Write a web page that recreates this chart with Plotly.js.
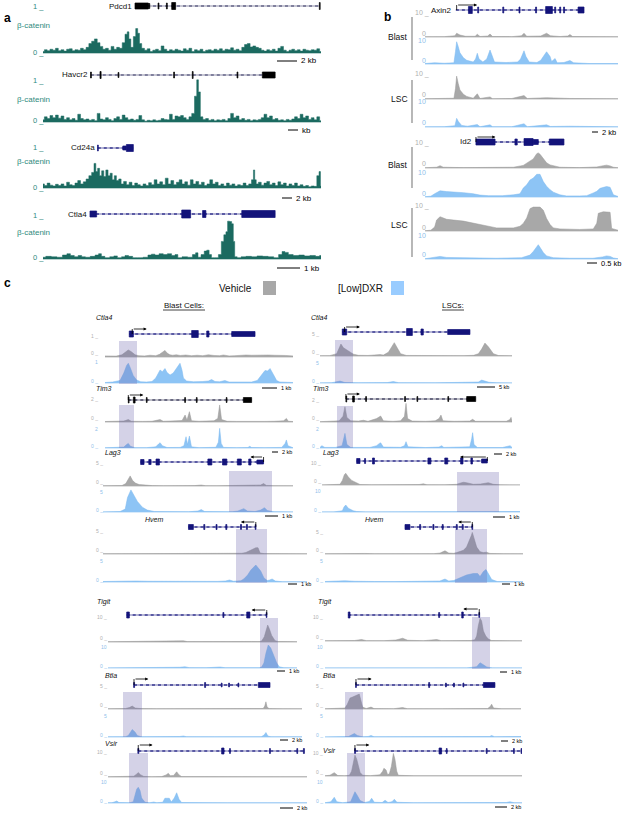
<!DOCTYPE html>
<html><head><meta charset="utf-8">
<script src="https://cdn.plot.ly/plotly-3.0.1.min.js"></script>
<style>html,body{margin:0;padding:0;background:#fff}#chart{width:622px;height:813px}</style>
</head><body><div id="chart"></div>
<script>
// ================= DATA =================
// Panel a: beta-catenin signal (position in window %, signal 0-1)
const a_Pdcd1 = [[0,.03],[1,.07],[2,.05],[3,.08],[4,.06],[5,.1],[6,.05],[7,.07],[8,.04],[9,.08],[10,.09],[11,.05],[12,.07],[13,.06],[14,.1],[15,.07],[16,.12],[17,.2],[18,.25],[19,.3],[20,.22],[21,.14],[22,.08],[23,.1],[24,.06],[25,.14],[26,.08],[27,.12],[28,.1],[29,.22],[30,.4],[30.6,.45],[31.2,.3],[32,.12],[33,.35],[33.7,.52],[34.4,.42],[35,.2],[36,.1],[37,.06],[38,.09],[39,.03],[40,.06],[41,.08],[42,.05],[43,.15],[44,.08],[45,.04],[46,.07],[47,.05],[48,.08],[49,.06],[50,.04],[51,.09],[52,.06],[53,.1],[54,.03],[55,.07],[56,.05],[57,.08],[58,.03],[59,.06],[60,.07],[61,.05],[62,.08],[63,.06],[64,.09],[65,.05],[66,.08],[67,.07],[68,.11],[69,.06],[70,.08],[71,.05],[72,.12],[73,.18],[74,.2],[75,.13],[76,.15],[77,.12],[78,.1],[79,.06],[80,.04],[81,.07],[82,.05],[83,.08],[84,.04],[85,.1],[86,.14],[87,.06],[88,.03],[89,.06],[90,.08],[91,.05],[92,.07],[93,.04],[94,.08],[95,.06],[96,.05],[97,.07],[98,.06],[99,.09],[100,.03]];
const a_Havcr2 = [[0,.05],[1,.12],[2,.08],[3,.15],[4,.1],[5,.16],[6,.09],[7,.14],[8,.06],[9,.1],[10,.05],[11,.08],[12,.04],[13,.18],[14,.08],[15,.05],[16,.07],[17,.04],[18,.06],[19,.03],[20,.2],[21,.07],[22,.05],[23,.1],[24,.06],[25,.03],[26,.08],[27,.12],[28,.06],[29,.16],[30,.1],[31,.05],[32,.07],[33,.04],[34,.06],[35,.15],[36,.05],[37,.02],[38,.04],[39,.03],[40,.05],[41,.03],[42,.04],[43,.08],[44,.06],[45,.05],[46,.18],[47,.06],[48,.14],[49,.12],[50,.15],[51,.1],[52,.06],[53,.12],[54,.2],[55,.6],[55.6,.98],[56.2,.7],[57,.12],[58,.06],[59,.08],[60,.04],[61,.06],[62,.03],[63,.05],[64,.04],[65,.06],[66,.03],[67,.08],[68,.2],[69,.1],[70,.14],[71,.05],[72,.08],[73,.04],[74,.06],[75,.03],[76,.05],[77,.04],[78,.06],[79,.1],[80,.18],[81,.1],[82,.14],[83,.06],[84,.08],[85,.04],[86,.05],[87,.03],[88,.06],[89,.04],[90,.07],[91,.12],[92,.08],[93,.18],[94,.1],[95,.14],[96,.06],[97,.1],[98,.05],[99,.12],[100,.03]];
const a_Cd24a = [[0,.1],[1,.06],[2,.12],[3,.07],[4,.05],[5,.09],[6,.06],[7,.1],[8,.05],[9,.14],[10,.08],[11,.06],[12,.12],[13,.18],[14,.1],[15,.15],[16,.22],[17,.3],[18,.38],[18.7,.6],[19.3,.4],[20,.48],[20.7,.3],[21.5,.42],[22.2,.28],[23,.44],[23.8,.3],[24.5,.36],[25.3,.2],[26,.3],[26.8,.18],[27.7,.22],[28.5,.1],[29.5,.16],[30.5,.08],[31.5,.14],[32.5,.06],[33.5,.12],[34.5,.08],[35.5,.05],[36.5,.1],[37.5,.06],[38.5,.13],[39.5,.08],[40.5,.2],[41.5,.1],[42.5,.15],[43.5,.08],[44.5,.24],[45.5,.1],[46.5,.18],[47.5,.08],[48.5,.14],[49.5,.2],[50.5,.1],[51.5,.15],[52.5,.07],[53.5,.2],[54.5,.1],[55.5,.16],[56.5,.08],[57.5,.14],[58.5,.06],[59.5,.1],[60.5,.2],[61.5,.1],[62.5,.14],[63.5,.06],[64.5,.1],[65.5,.05],[66.5,.12],[67.5,.07],[68.5,.1],[69.5,.05],[70.5,.08],[71.5,.06],[72.5,.12],[73.5,.06],[74.5,.1],[75.5,.2],[75.9,.44],[76.4,.2],[77,.1],[78,.14],[79,.07],[80,.12],[81,.16],[82,.08],[83,.12],[84,.06],[85,.15],[86,.08],[87,.12],[88,.05],[89,.1],[90,.06],[91,.12],[92,.05],[93,.08],[94,.04],[95,.06],[96,.03],[97,.05],[98,.04],[99,.3],[99.6,.4],[100,.05]];
const a_Ctla4 = [[0,.04],[2,.06],[4,.05],[6,.04],[8,.09],[9.2,.12],[10.5,.08],[12,.05],[13.3,.08],[14.5,.05],[16,.04],[18,.06],[19.5,.09],[20.5,.12],[21.5,.06],[23,.03],[25,.05],[26,.07],[27.5,.03],[29,.05],[30,.08],[31.5,.06],[33,.03],[35,.03],[37,.04],[38.5,.09],[39.5,.11],[41,.09],[42.5,.12],[44,.1],[45.5,.12],[47,.08],[48,.1],[49,.03],[51,.05],[53,.04],[54.5,.1],[55.3,.14],[56.2,.04],[57.5,.1],[58.5,.18],[59.3,.2],[60.2,.1],[61,.03],[62.5,.03],[63.7,.1],[64.6,.4],[65.5,.55],[66.1,.62],[66.7,.86],[67.5,.85],[68.2,.8],[68.7,.4],[69.2,.05],[70.5,.03],[72,.05],[74,.06],[76,.05],[78,.07],[80,.06],[82,.05],[84,.03],[85.5,.1],[86.5,.17],[87.5,.15],[89,.1],[91,.08],[93,.09],[95,.07],[97,.08],[99,.06],[100,.08]];
// Panel a gene models: [txStart, txEnd, exons[start, end, halfHeightPx]]
const aGene_Pdcd1 = [33.1, 99.6, [[33.1,37.9,3],[38,38.4,2.5],[41.4,41.7,3],[44.4,44.7,3],[46.3,47.7,3.5],[99.4,99.7,3.5]]];
const aGene_Havcr2 = [17.2, 83.5, [[17.1,17.4,3],[20.5,20.9,3.5],[27,27.3,2.5],[47,47.3,3],[53.7,54,3.5],[69.8,70.1,3],[78.9,83.5,3]]];
const aGene_Cd24a = [19.7, 32.5, [[19.6,19.9,3],[28.7,30,2],[30,32.5,3.5]]];
const aGene_Ctla4 = [16.9, 83.5, [[16.9,19.3,3],[49.9,53.1,4],[57.4,58.6,3.5],[71.5,83.5,3.5]]];
const aNames = ['Pdcd1','Havcr2','Cd24a','Ctla4'];
const aScaleLabels = ['2 kb','kb','2 kb','1 kb'];

// Panel b: Axin2 / Id2 (signal 0-10)
const b_Axin2_BlastVeh = [[0,.1],[10,.15],[15.5,.5],[16.4,1.5],[18.1,.8],[21,.3],[26,.3],[27.1,1.1],[28.5,.2],[32.5,.4],[33.7,1.2],[35,.2],[45,.15],[50,.5],[51.3,1.5],[52.7,.3],[60,.4],[63,1.5],[65,.5],[70,.2],[74,.4],[75.1,1.0],[76.5,.2],[85,.1],[100,.1]];
const b_Axin2_BlastDxr = [[0,.2],[5,.5],[10,.3],[15,.5],[15.8,5],[16.4,8.9],[17.2,7],[18.1,4.5],[19.9,2.5],[21.6,1.5],[25,.8],[26.2,2],[27.1,4.3],[28,2],[30,.8],[32,2],[33.7,5.6],[34.8,3],[36,.8],[42,.6],[48,.8],[49.5,2],[51.3,5.3],[52.3,3],[54,.8],[58,.6],[60,1.5],[61.3,3],[63,4.9],[64.8,3],[65.6,1],[67.4,2.2],[68.5,.5],[72,.6],[74,1.2],[75.1,1.4],[77,.5],[85,.2],[100,.2]];
const b_Axin2_LscVeh = [[0,.1],[10,.1],[15,.3],[15.8,4],[16.4,8.8],[17.2,6],[18.1,3.5],[19.9,1.8],[21.6,1],[25,.3],[27.1,2],[28.5,.2],[33.7,.8],[35,.1],[45,.2],[51.3,1.3],[53,.2],[63,.5],[75,.2],[100,.1]];
const b_Axin2_LscDxr = [[0,.05],[10,.1],[15.5,.5],[16.4,3.2],[17.3,2],[19,.6],[22,.3],[27.1,.9],[28.5,.1],[33.7,.8],[35,.1],[45,.1],[51.3,1.2],[53,.1],[63,.8],[65,.2],[75,.3],[100,.05]];
const b_Id2_BlastVeh = [[0,.1],[6,.3],[7.8,.9],[9.5,.3],[20,.15],[37,.15],[45.8,.3],[50.9,1],[54.4,2.5],[56.1,3.5],[57.9,5.5],[58.7,5.8],[59.6,5.3],[61.3,3.5],[63,2],[64.8,1.2],[66.5,.8],[69.9,.3],[80,.15],[89,.4],[92.4,.9],[94.1,1.1],[95.9,.8],[97.6,.3],[100,.1]];
const b_Id2_BlastDxr = [[0,.1],[3,.3],[5,1.2],[7.8,2.3],[11.2,2],[16,1.9],[20,1.6],[25,1.2],[28.5,.7],[33,.5],[40,.5],[45.8,.8],[49.2,1.2],[50.9,3.3],[52.7,4.5],[54.4,6.3],[56.1,7],[57.9,8.4],[59.6,8.4],[61.3,5.7],[63,4],[64.8,2.7],[66.5,1.8],[69.9,.8],[73.4,.4],[80,.4],[83.8,.5],[87.2,1.5],[89,2.1],[90.7,3.2],[92.4,3.6],[94.1,3.9],[95.9,3.6],[97.6,.8],[100,.2]];
const b_Id2_LscVeh = [[0,.1],[3,.3],[5,1.5],[6,4.2],[7.8,5.5],[9.5,5],[11.2,4.5],[19.9,3.8],[28.5,2.5],[37.1,1.2],[45.8,1.2],[49.2,1.8],[50.9,2.9],[52.7,5],[54.4,8.6],[56.1,9.2],[59.6,9.2],[61.3,8],[63,4.8],[64.8,2.5],[66.5,1.2],[69.9,.8],[80,.6],[87.2,.8],[89,3],[89.8,6.8],[92.4,7.4],[95.9,7.2],[96.7,1],[100,.3]];
const b_Id2_LscDxr = [[0,.1],[5,.5],[7.8,1],[11.2,.6],[20,.5],[37,.3],[50,.5],[54.4,1.5],[56.1,2.9],[57.9,4.5],[58.7,5.5],[60,4],[61.3,2.5],[63,1.2],[66.5,.5],[75,.3],[87,.3],[92,.8],[94.1,1.2],[96,1],[97.6,.4],[100,.1]];
const bGene_Axin2 = [16, 82.4, [[22.5,24.5,3.5],[27.3,27.8,3],[40.3,40.8,3],[48.7,49.2,3],[57.3,57.8,3],[62.5,66,3.5],[67.2,67.7,3],[69.8,70.3,3],[71.8,72.3,3],[79.3,82.4,3]]];
const bGene_Id2 = [26.4, 72, [[26.4,36.3,3],[46.6,47.8,3],[51.3,56,3.5],[56,58.7,2.5],[64.4,72,3]]];
const bNames = ['Axin2','Id2'];
const bScaleLabels = ['2 kb','0.5 kb'];
const bMax = 10;

// Panel c: gene names, data range max, scale bar labels
const cGenes = ['Ctla4','Tim3','Lag3','Hvem','Tigit','Btla','Vsir'];
const cMaxBlast = [1,2,5,5,10,5,10];
const cMaxLSC = [5,2,10,5,10,5,10];
const cScaleBlast = ['1 kb','2 kb','1 kb','1 kb','1 kb','2 kb','2 kb'];
const cScaleLSC = ['5 kb','2 kb','1 kb','1 kb','1 kb','2 kb','2 kb'];
// Blast cells: Vehicle / [Low]DXR
const cB_Ctla4_veh = [[0,.05],[3,.06],[6,.04],[9,.1],[11,.22],[12.4,.32],[14,.24],[16,.1],[18,.06],[21,.05],[24,.08],[27,.06],[29,.12],[30.5,.22],[31.9,.3],[33,.18],[34.5,.1],[36,.08],[38,.1],[40,.07],[43,.09],[46,.06],[49,.08],[52,.06],[55,.1],[58,.07],[61,.06],[63,.09],[66,.05],[69,.06],[72,.08],[75,.09],[78,.08],[81,.09],[84,.07],[87,.09],[90,.08],[93,.06],[96,.07],[100,.05]];
const cB_Ctla4_dxr = [[0,.02],[4,.04],[8,.1],[10,.4],[11.5,.7],[12.4,.79],[13.5,.6],[15,.3],[16.8,.12],[19,.05],[22,.04],[25,.06],[27,.2],[28.5,.45],[29.3,.52],[30.5,.45],[31.9,.58],[33,.42],[34.6,.32],[36.3,.4],[38.2,.6],[39.9,.79],[41,.5],[41.7,.2],[43.4,.08],[47,.05],[52,.06],[55,.08],[56.7,.14],[58.5,.06],[61,.05],[63.8,.1],[66,.04],[72,.03],[78,.04],[81,.1],[83,.3],[85.1,.5],[86.5,.48],[87.8,.58],[89.5,.35],[91.3,.1],[93,.04],[100,.02]];
const cB_Tim3_veh = [[0,.04],[5,.05],[10,.08],[12.4,.2],[14,.06],[20,.05],[25,.06],[29.3,.2],[31,.06],[35,.08],[38,.1],[41,.12],[42.6,.58],[43.6,.15],[44.9,.86],[46,.1],[50,.06],[55,.08],[58,.1],[60,.3],[61,1.42],[62,.2],[65,.06],[70,.05],[75,.07],[80,.06],[85,.05],[90,.06],[95,.1],[96.5,.3],[97.5,.06],[100,.04]];
const cB_Tim3_dxr = [[0,.02],[5,.03],[10,.08],[11.5,.3],[12.4,.4],[13.5,.15],[16,.03],[22,.03],[27,.1],[28.5,.35],[29.3,.46],[30.5,.2],[33,.04],[40,.05],[42,.2],[43.1,.98],[43.9,.3],[44.9,1.04],[46,.1],[50,.03],[56,.03],[59,.06],[60.3,.5],[61,1.71],[61.8,.4],[63,.05],[70,.03],[76,.04],[77,.15],[78,.04],[85,.03],[94,.05],[95.8,.4],[96.5,.7],[97.3,.2],[100,.02]];
const cB_Lag3_veh = [[0,.05],[5,.06],[10,.1],[12,.5],[13.5,1.4],[14.3,2.1],[15.5,1.2],[17,.6],[19,.3],[22,.15],[26,.08],[32,.06],[40,.05],[48,.08],[51.7,.2],[54,.06],[60,.05],[66,.06],[72,.07],[76,.1],[80,.08],[83,.2],[84.5,.5],[86,.12],[90,.06],[95,.05],[100,.04]];
const cB_Lag3_dxr = [[0,.02],[5,.03],[9,.1],[11.7,.6],[12.9,3.0],[14.7,4.6],[16.4,3.5],[18.1,2.2],[20.7,1.0],[23.3,.4],[27,.1],[35,.04],[45,.05],[50,.2],[51.7,.5],[53.5,.1],[60,.04],[68,.05],[71,.2],[74.1,.7],[76,.2],[80,.1],[83,.4],[85,.9],[86.5,.3],[90,.05],[100,.02]];
const cB_Hvem_veh = [[0,.05],[5,.06],[10,.05],[20,.06],[30,.05],[40,.06],[50,.05],[56,.07],[60,.1],[62,.2],[64,.08],[68,.15],[70,.3],[71.7,.7],[73.3,1.0],[74.9,1.3],[76,1.3],[77,.2],[79,.08],[85,.06],[90,.05],[100,.04]];
const cB_Hvem_dxr = [[0,.1],[4,.15],[8,.2],[12,.15],[16,.2],[22,.15],[30,.12],[40,.1],[50,.1],[56,.12],[60,.2],[62,.4],[64,.15],[66,.2],[67.6,.25],[69,.6],[70.9,1.4],[72.5,2.4],[73.8,3.0],[74.9,3.4],[75.7,3.0],[77.3,2.2],[78.9,.8],[80.5,.3],[81.7,.4],[82.9,.6],[84.5,.2],[88,.05],[100,.03]];
const cB_Tigit_veh = [[0,.1],[8,.15],[15,.2],[18.7,.35],[21,.1],[30,.15],[37,.2],[39.9,.45],[42,.15],[50,.2],[57,.2],[59.3,.35],[62,.15],[68,.25],[73.4,.45],[76,.2],[80,.15],[81.3,.4],[82.7,2],[83.6,4.5],[84.5,6.5],[85.4,5],[86.6,2.5],[88.4,.5],[90,.2],[95,.15],[100,.1]];
const cB_Tigit_dxr = [[0,.05],[8,.08],[15,.1],[18.7,.25],[21,.08],[32,.1],[38,.3],[40.7,.5],[43,.15],[52,.1],[57,.2],[59.3,.4],[62,.1],[70,.1],[73.4,.3],[76,.08],[80,.1],[81.3,.4],[82.5,2],[83.6,6],[84.8,9.2],[86.1,8],[87.5,5],[89.3,2],[90.6,.5],[93,.1],[100,.05]];
const cB_Btla_veh = [[0,.05],[5,.06],[9,.1],[11,.3],[12.5,.6],[14,.2],[17,.08],[25,.06],[35,.07],[45,.05],[55,.06],[65,.05],[75,.06],[80,.1],[80.8,.6],[81.4,1.5],[82,.4],[83,.08],[90,.05],[100,.04]];
const cB_Btla_dxr = [[0,.03],[5,.04],[9,.06],[10.5,.3],[11.3,.8],[12.5,1.5],[13.9,1.0],[15.1,.3],[17,.06],[30,.05],[37,.1],[38.8,.2],[40.5,.06],[55,.04],[70,.04],[79,.05],[80.5,.4],[81.4,.9],[82.4,.2],[84,.04],[100,.03]];
const cB_Vsir_veh = [[0,.1],[5,.15],[10,.1],[13,.3],[14.5,1.2],[15.2,1.7],[16.3,.9],[18,.2],[22,.1],[27,.15],[29.2,.8],[30.3,1.4],[31.3,.5],[33,.6],[34.5,2.0],[35.7,.8],[37,.15],[45,.1],[60,.1],[75,.12],[90,.1],[100,.1]];
const cB_Vsir_dxr = [[0,.05],[2,.1],[3.5,.5],[4.4,.8],[5.5,.2],[8,.05],[11,.1],[12.7,.5],[13.6,3],[14.4,5.5],[15.2,6.3],[16.1,5],[16.9,2],[18.6,.3],[21,.1],[23,.4],[24.5,.1],[27.5,.3],[28.6,1.9],[30.8,1.9],[31.8,.4],[33.3,2],[34.5,4.1],[35.7,1.5],[37,.2],[45,.05],[60,.05],[80,.05],[92,.1],[94.8,.3],[96.5,.08],[100,.05]];
// LSCs: Vehicle / [Low]DXR
const cL_Ctla4_veh = [[0,.05],[5,.08],[8.7,.5],[10.1,2],[10.9,2.6],[12.2,1.8],[14.8,1],[17.4,.4],[20,.15],[25,.12],[31.3,.3],[33,.2],[35.6,.8],[37.3,1.8],[38.7,2.9],[39.9,2],[42,.5],[45,.12],[55,.08],[65,.06],[75,.08],[80,.15],[82.5,.5],[84.2,1.5],[85.9,2.8],[87.7,2],[90.3,.5],[93,.1],[100,.06]];
const cL_Ctla4_dxr = [[0,.02],[6,.05],[10.4,.4],[13,.1],[20,.05],[35,.08],[38.2,.3],[41,.06],[60,.04],[78,.06],[82.5,.2],[84.2,.6],[86,.4],[88,.15],[92,.04],[100,.02]];
const cL_Tim3_veh = [[0,.03],[5,.05],[10,.1],[12,.5],[13,1.33],[14,.4],[16,.1],[20,.08],[22.6,.15],[25,.06],[29.5,.3],[31.6,.52],[33,.1],[38,.06],[42,.1],[44,.5],[44.8,1.62],[45.6,.3],[48,.08],[55,.06],[60,.1],[62,.3],[63,.6],[64,.1],[70,.06],[78,.08],[79.5,.23],[81,.06],[90,.05],[97,.06],[98.8,.2],[99.5,.4],[100,.05]];
const cL_Tim3_dxr = [[0,.05],[0.9,.2],[2.5,.05],[8,.05],[11.5,.2],[12.3,.9],[13,1.27],[14,.3],[16,.05],[26,.05],[29.5,.2],[30.9,.4],[31.6,.45],[33,.08],[42,.06],[44,.2],[44.8,.55],[45.8,.1],[55,.04],[62,.08],[63.4,.2],[64.5,.05],[78,.1],[79,.8],[79.5,1.33],[80.2,.3],[82,.04],[95,.04],[99,.2],[100,.05]];
const cL_Lag3_veh = [[0,.05],[5,.08],[9.1,.3],[10.3,2],[11.3,4.5],[12,5.1],[13.3,3.5],[15,2],[17.5,.8],[19.2,.2],[25,.08],[35,.06],[45,.08],[49,.2],[51.2,.5],[53,.1],[62,.06],[68,.3],[69.7,.8],[71.4,1.2],[73,1],[76.4,.3],[80,.4],[82,.8],[84,1.0],[86.5,.3],[90,.06],[100,.04]];
const cL_Lag3_dxr = [[0,.03],[6,.05],[10.3,.5],[11.1,2],[12,2.8],[13.3,1.5],[15.8,.5],[17.5,.2],[22,.05],[40,.04],[60,.04],[75,.05],[90,.04],[98,.1],[100,.2]];
const cL_Hvem_veh = [[0,.05],[5,.1],[10,.15],[15,.08],[20,.12],[25,.06],[35,.05],[45,.06],[55,.08],[58.1,.2],[60.6,.7],[62.5,.2],[65,.15],[66.5,.3],[69.9,.8],[71.5,1.5],[72.9,2.8],[73.9,4],[74.4,4.7],[75.3,3.5],[76.6,1.5],[78.3,.5],[80,.3],[81.6,.4],[83.3,.12],[90,.06],[100,.04]];
const cL_Hvem_dxr = [[0,.1],[5,.2],[10,.25],[15,.15],[20,.2],[25,.1],[35,.08],[45,.08],[55,.1],[58,.2],[60.6,.6],[62.5,.2],[65,.3],[68.2,.9],[71.5,1.4],[74.9,1.7],[77.1,1.7],[78.3,1.1],[80,2.1],[81.3,2.5],[82.5,1.7],[84.2,.5],[87,.1],[95,.05],[100,.03]];
const cL_Tigit_veh = [[0,.1],[8,.15],[15,.2],[18.6,.6],[21,.15],[30,.12],[36,.4],[39.4,1.1],[42,.3],[50,.12],[54,.3],[56.7,.6],[59,.15],[70,.1],[74,.2],[76.1,.5],[77,2],[77.8,6],[78.7,9.1],[79.5,8],[80.4,4],[81.6,2],[82.9,.8],[84.6,.2],[90,.1],[100,.08]];
const cL_Tigit_dxr = [[0,.03],[10,.05],[20,.06],[35,.1],[38.1,.2],[41,.05],[60,.04],[72,.05],[77,.5],[77.8,1.2],[78.7,2.1],[80,1.5],[82.1,.4],[85,.05],[100,.03]];
const cL_Btla_veh = [[0,.05],[5,.06],[9,.1],[10.2,.2],[11.4,1],[12.8,2.3],[14.1,2.5],[15.3,2.7],[16.2,2.8],[17.5,3.1],[18.2,2],[19.2,.4],[21,.1],[23.5,.4],[25,.08],[35,.06],[39.6,.3],[42,.06],[60,.05],[75,.05],[83,.1],[84.3,.5],[85,1.0],[86,.2],[90,.05],[100,.05]];
const cL_Btla_dxr = [[0,.02],[8,.03],[12,.1],[13.5,.4],[15,.7],[16.5,.3],[19,.05],[22,.1],[23.5,.3],[25,.05],[40,.05],[60,.04],[80,.04],[84,.1],[85,.3],[86.5,.05],[100,.1]];
const cL_Vsir_veh = [[0,.1],[2.5,.3],[4.7,1.4],[6.5,.2],[10,.1],[12.4,.3],[13.5,2],[14.4,5.5],[15.2,8.7],[16.1,7],[16.9,4],[17.8,1.5],[19.1,.3],[23,.15],[27.9,.5],[29.3,2],[29.9,3.2],[31,2.5],[31.8,.5],[32.7,1],[33.7,4],[34.7,9.4],[35.5,7],[36.4,2],[37.2,.3],[45,.1],[60,.1],[80,.15],[90,.2],[95,.15],[100,.1]];
const cL_Vsir_dxr = [[0,.1],[3,.5],[4.7,2.3],[6,.5],[9,.1],[13,.5],[14.1,2.5],[15.2,4.5],[16.4,3],[17.8,1],[20,.2],[22.5,.6],[23.7,1.9],[25,.3],[29,.2],[30.5,1.1],[32,.2],[34,.5],[35.2,1.5],[36.5,.3],[45,.1],[60,.08],[80,.1],[92,.2],[93.9,.5],[96,.1],[100,.05]];
// Panel c gene models (window %): [txStart, txEnd, exons]
const cGeneB_Ctla4 = [12.9,79.8,[[12.9,15.1,3],[46.1,49.6,3.5],[54.1,55.3,3],[67.4,79.8,2.5]]];
const cGeneB_Tim3 = [12.4,78,[[12.4,12.8,3],[15.1,16,3],[22,22.4,2.5],[42.4,42.8,2.5],[48.6,49,2.5],[64.5,64.9,2.5],[73.6,78,2.5]]];
const cGeneB_Lag3 = [19.8,84.5,[[19.8,21.6,2.5],[24.1,25.3,2.5],[27.9,29.7,3],[55.2,57.3,3],[62.9,65.2,3],[70.7,72.8,3],[76.7,77.9,3],[81,84.5,2]]];
const cGeneB_Hvem = [41.9,74.9,[[41.9,44.3,2.5],[49.4,49.9,2.5],[55.4,55.9,2.5],[60.2,60.7,2.5],[67.4,67.9,2.5],[70.3,70.8,2.5],[74.6,75,2.5]]];
const cGeneB_Tigit = [9.9,84,[[9.9,11.3,3],[60.8,61.3,2.5],[73.4,75.1,3],[83.7,84.1,2.5]]];
const cGeneB_Btla = [13.4,83.5,[[13.2,13.7,2.5],[49.8,50.3,2.5],[58.4,58.8,2],[62.2,62.6,2],[67,67.4,2],[77.5,83.5,2.5]]];
const cGeneB_Vsir = [15.2,98.5,[[15,15.5,2.5],[57.1,58.3,3],[61.1,61.5,2.5],[81.2,81.6,2.5],[94.9,95.3,2.5],[98.2,98.7,2.5]]];
const cGeneL_Ctla4 = [11.6,78.1,[[11.6,13.9,3],[45.1,48.1,3.5],[52.6,53.8,3],[66.5,78.1,2.5]]];
const cGeneL_Tim3 = [13.5,81.1,[[13.5,13.9,3],[17,17.9,3],[23.8,24.2,2.5],[44.1,44.5,2.5],[50.5,50.9,2.5],[66.6,67,2.5],[76.4,81.1,2.5]]];
const cGeneL_Lag3 = [17.5,83.5,[[17.5,19.2,2.5],[21.5,22,2.5],[25.5,26.5,3],[53.5,55,3],[62,63.5,3],[70,71.2,3],[75.2,76,3],[80.6,83.5,2]]];
const cGeneL_Hvem = [40.4,74.4,[[40.4,42.9,2.5],[47.8,48.3,2.5],[54.5,55,2.5],[59.2,59.7,2.5],[66.3,66.8,2.5],[69.3,69.8,2.5],[74.2,74.6,2.5]]];
const cGeneL_Tigit = [11.8,78.3,[[11.8,12.7,3],[57.7,58.2,2.5],[69.4,70.2,3],[78.1,78.5,2.5]]];
const cGeneL_Btla = [15.8,86.7,[[15.6,16,2.5],[52.9,53.4,2.5],[61.5,61.9,2],[65.6,66,2],[70.4,70.8,2],[80.8,86.7,2.5]]];
const cGeneL_Vsir = [15.2,99.8,[[15,15.5,2.5],[57.9,59.2,3],[61.6,62,2.5],[81.9,82.3,2.5],[95.7,96.1,2.5],[99.5,99.9,2.5]]];
// TSS arrows: [tss, arrow tip] in window %
const cTssB = [[14.5,22.2],[12.4,20.4],[84.5,77.6],[74.9,67.6],[84,76],[13.4,20.8],[15.2,22.4]];
const cTssL = [[12.8,20.8],[13.5,20.8],[83.5,69.7],[74.4,67.3],[78.3,70.2],[15.8,23.8],[15.2,22.5]];

// ================= LAYOUT / STYLE =================
const W = 622, H = 813;
const FONT = 'Liberation Sans, Arial, sans-serif';
const TEAL = '#1b6a60', TEAL_T = '#2f8a7e';
const GRAY_F = '#a8a8a8', GRAY_L = '#989898', GRAY_T = '#b0b0b0';
const BLUE_F = '#8dc4f5', BLUE_L = '#7db8ef', BLUE_T = '#8fc0ea';
const NAVY = '#13137a', NAVY_I = 'rgba(30,30,130,0.8)';
const HL = 'rgba(100,95,170,0.28)';
const X = p => p / W, Y = p => 1 - p / H;
const data = [], shapes = [], annotations = [];
const layout = {width: W, height: H, margin: {l:0, r:0, t:0, b:0}, paper_bgcolor: '#fff',
  plot_bgcolor: 'rgba(0,0,0,0)', showlegend: false, shapes, annotations, font: {family: FONT}};
let nAx = 0;
function addTrack(win, top, base, ymax, pts, fill, line, lshape) {
  nAx++;
  const s = nAx === 1 ? '' : String(nAx);
  layout['xaxis' + s] = {domain: [X(win[0]), X(win[1])], range: [0, 100], visible: false, fixedrange: true, anchor: 'y' + s};
  layout['yaxis' + s] = {domain: [Y(base), Y(top)], range: [0, ymax], visible: false, fixedrange: true, anchor: 'x' + s};
  data.push({type: 'scatter', mode: 'lines', x: pts.map(p => p[0]), y: pts.map(p => p[1]),
    xaxis: 'x' + s, yaxis: 'y' + s, fill: 'tozeroy', fillcolor: fill,
    line: {color: line, width: 0.5, shape: lshape || 'linear'}, hoverinfo: 'skip', showlegend: false});
  shapes.push({type: 'line', layer: 'below', xref: 'x' + s, yref: 'paper', x0: 0, x1: 100, y0: Y(base), y1: Y(base), line: {color: line, width: 0.6}});
  return 'x' + s;
}
function drawGene(xr, yPx, g, color, intron) {
  const [s, e, exons] = g;
  shapes.push({type: 'line', xref: xr, yref: 'paper', x0: s, x1: e, y0: Y(yPx), y1: Y(yPx), line: {color: intron, width: 0.8}});
  shapes.push({type: 'line', xref: xr, yref: 'paper', x0: s, x1: e, y0: Y(yPx), y1: Y(yPx), line: {color: intron, width: 1.6, dash: 'dot'}});
  exons.forEach(ex => shapes.push({type: 'rect', xref: xr, yref: 'paper', x0: ex[0], x1: ex[1],
    y0: Y(yPx + ex[2]), y1: Y(yPx - ex[2]), fillcolor: color, line: {color: color, width: 0.7}}));
}
function tss(xr, yGene, yArrow, x0, x1) {
  shapes.push({type: 'line', xref: xr, yref: 'paper', x0: x0, x1: x0, y0: Y(yGene), y1: Y(yArrow), line: {color: '#000', width: 0.8}});
  annotations.push({xref: xr, yref: 'paper', x: x1, y: Y(yArrow), axref: xr, ax: x0, ayref: 'pixel', ay: 0,
    text: '', showarrow: true, arrowhead: 2, arrowsize: 0.8, arrowwidth: 0.8, arrowcolor: '#000', standoff: 0});
}
function txt(x, y, s, size, color, anchor, extra) {
  annotations.push(Object.assign({xref: 'paper', yref: 'paper', x: X(x), y: Y(y), text: s, showarrow: false,
    xanchor: anchor || 'left', yanchor: 'middle', borderpad: 0, font: {family: FONT, size: size, color: color}}, extra || {}));
}
function hline(x0, x1, y, color, w) {
  shapes.push({type: 'line', xref: 'paper', yref: 'paper', x0: X(x0), x1: X(x1), y0: Y(y), y1: Y(y), line: {color: color, width: w}});
}
function vline(x, y0, y1, color, w) {
  shapes.push({type: 'line', xref: 'paper', yref: 'paper', x0: X(x), x1: X(x), y0: Y(y0), y1: Y(y1), line: {color: color, width: w}});
}
function scaleBar(x0, x1, y, label, size) {
  hline(x0, x1, y, '#000', 1);
  txt(x1 + 3, y, label, size, '#000', 'left');
}
function highlight(xr, u0, u1, y0, y1) {
  shapes.push({type: 'rect', layer: 'above', xref: xr, yref: 'paper', x0: u0, x1: u1, y0: Y(y1), y1: Y(y0), fillcolor: HL, line: {width: 0}});
}

// ---------- Panel a ----------
txt(3, 18, '<b>a</b>', 12, '#000');
const aSignals = [a_Pdcd1, a_Havcr2, a_Cd24a, a_Ctla4];
const aGenes = [aGene_Pdcd1, aGene_Havcr2, aGene_Cd24a, aGene_Ctla4];
const aGeom = [
  {top: 6, base: 53, geneY: 6, lab: 25, sb: [277, 297, 61]},
  {top: 79, base: 122, geneY: 75, lab: 99, sb: [288, 298, 130]},
  {top: 147, base: 188, geneY: 148, lab: 162, sb: [282, 292, 198]},
  {top: 215, base: 259, geneY: 214, lab: 232, sb: [277, 300, 268]}
];
const aWin = [43, 321];
aGeom.forEach((g, i) => {
  const xr = addTrack(aWin, g.top, g.base, 1, aSignals[i], TEAL, TEAL, 'hvh');
  const col = i < 2 ? '#000' : NAVY;
  const intr = i < 2 ? 'rgba(80,80,120,0.8)' : NAVY_I;
  drawGene(xr, g.geneY, aGenes[i], col, intr);
  const gx = aWin[0] + aGenes[i][0] / 100 * (aWin[1] - aWin[0]);
  txt(gx - 2, g.geneY, aNames[i], 8, '#111', 'right');
  txt(32, g.top + 1, '1 _', 7.5, TEAL_T);
  txt(32, g.base - 1, '0 _', 7.5, TEAL_T);
  txt(16, g.lab, 'β-catenin', 8, TEAL_T);
  scaleBar(g.sb[0], g.sb[1], g.sb[2], aScaleLabels[i], 8);
});

// ---------- Panel b ----------
txt(383, 17, '<b>b</b>', 12, '#000');
const bWin = [425, 618];
const bSignals = [[b_Axin2_BlastVeh, b_Axin2_BlastDxr, b_Axin2_LscVeh, b_Axin2_LscDxr],
                  [b_Id2_BlastVeh, b_Id2_BlastDxr, b_Id2_LscVeh, b_Id2_LscDxr]];
const bGenes = [bGene_Axin2, bGene_Id2];
const bGeom = [
  {geneY: 10, arrowY: 5, tss: [16.4, 27], tracks: [[12, 37], [39, 64], [73, 99], [100, 127]], bars: [[17, 60, 37], [80, 123, 99]], sb: [592, 598, 132]},
  {geneY: 142, arrowY: 137, tss: [26.4, 36.5], tracks: [[142, 168], [170, 197], [205, 231], [233, 259]], bars: [[147, 188, 165], [208, 257, 225]], sb: [587, 597, 263]}
];
bGeom.forEach((g, i) => {
  let firstAx = null;
  g.tracks.forEach((t, j) => {
    const isVeh = j % 2 === 0;
    const xr = addTrack(bWin, t[0], t[1], bMax, bSignals[i][j], isVeh ? GRAY_F : BLUE_F, isVeh ? GRAY_L : BLUE_L);
    if (!firstAx) firstAx = xr;
    const c = isVeh ? GRAY_T : BLUE_T;
    txt(isVeh ? 430 : 427, t[0] + (isVeh ? 1 : 2), isVeh ? '10 _' : '10', 7, c, 'right');
    txt(427, t[1] - 4, '0', 7, c, 'right');
  });
  drawGene(firstAx, g.geneY, bGenes[i], NAVY, NAVY_I);
  tss(firstAx, g.geneY, g.arrowY, g.tss[0], g.tss[1]);
  const gx = bWin[0] + bGenes[i][0] / 100 * (bWin[1] - bWin[0]);
  txt(gx - 3, g.geneY, bNames[i], 8, '#111', 'right');
  vline(412, g.bars[0][0], g.bars[0][1], '#888', 1.2);
  vline(412, g.bars[1][0], g.bars[1][1], '#888', 1.2);
  txt(409, g.bars[0][2], 'Blast', 8.5, '#111', 'right');
  txt(409, g.bars[1][2], 'LSC', 8.5, '#111', 'right');
  scaleBar(g.sb[0], g.sb[1], g.sb[2], bScaleLabels[i], 7.5);
});

// ---------- Panel c ----------
txt(3, 283, '<b>c</b>', 12, '#000');
txt(253, 288, 'Vehicle', 10, '#111', 'right');
shapes.push({type: 'rect', xref: 'paper', yref: 'paper', x0: X(263), x1: X(276), y0: Y(295), y1: Y(281), fillcolor: GRAY_F, line: {width: 0}});
txt(337, 288, '[Low]DXR', 10, '#111', 'left');
shapes.push({type: 'rect', xref: 'paper', yref: 'paper', x0: X(391), x1: X(404), y0: Y(295), y1: Y(281), fillcolor: '#99ccff', line: {width: 0}});
txt(184, 305, 'Blast Cells:', 8, '#111', 'center');
hline(163, 205, 310, '#111', 0.8);
txt(453, 305, 'LSCs:', 8, '#111', 'center');
hline(442, 464, 310, '#111', 0.8);

const cSigB = [[cB_Ctla4_veh, cB_Ctla4_dxr], [cB_Tim3_veh, cB_Tim3_dxr], [cB_Lag3_veh, cB_Lag3_dxr], [cB_Hvem_veh, cB_Hvem_dxr],
               [cB_Tigit_veh, cB_Tigit_dxr], [cB_Btla_veh, cB_Btla_dxr], [cB_Vsir_veh, cB_Vsir_dxr]];
const cSigL = [[cL_Ctla4_veh, cL_Ctla4_dxr], [cL_Tim3_veh, cL_Tim3_dxr], [cL_Lag3_veh, cL_Lag3_dxr], [cL_Hvem_veh, cL_Hvem_dxr],
               [cL_Tigit_veh, cL_Tigit_dxr], [cL_Btla_veh, cL_Btla_dxr], [cL_Vsir_veh, cL_Vsir_dxr]];
const cGeneB = [cGeneB_Ctla4, cGeneB_Tim3, cGeneB_Lag3, cGeneB_Hvem, cGeneB_Tigit, cGeneB_Btla, cGeneB_Vsir];
const cGeneL = [cGeneL_Ctla4, cGeneL_Tim3, cGeneL_Lag3, cGeneL_Hvem, cGeneL_Tigit, cGeneL_Btla, cGeneL_Vsir];
// geometry in px: window, name pos, gene y, arrow y, gray track [top, base], blue track [top, base], highlight [x0,x1,y0,y1], scale bar, label x
const cGeomB = [
  {win: [105, 293], name: [95, 317], geneY: 334, arrowY: 329, gray: [335, 357], blue: [358, 383], hl: [119, 137, 341, 384], sb: [262, 277, 388], lab: 99},
  {win: [105, 293], name: [95, 388], geneY: 400, arrowY: 395, gray: [398, 422], blue: [425, 448], hl: [119, 134, 405, 448], sb: [272, 278, 452], lab: 99},
  {win: [103, 293], name: [104, 453], geneY: 462, arrowY: 457, gray: [462, 486], blue: [488, 512], hl: [229, 272, 471, 512], sb: [265, 278, 516], lab: 104},
  {win: [103, 307], name: [144, 519], geneY: 527, arrowY: 522, gray: [530, 554], blue: [557, 582], hl: [236, 267, 529, 583], sb: [288, 297, 584], lab: 104},
  {win: [108, 297], name: [96, 602], geneY: 615, arrowY: 610, gray: [616, 642], blue: [643, 668], hl: [260, 278, 618, 668], sb: [277, 285, 671], lab: 108},
  {win: [108, 302], name: [104, 675], geneY: 685, arrowY: 679, gray: [685, 709], blue: [712, 737], hl: [123, 142, 692, 737], sb: [280, 288, 740], lab: 108},
  {win: [108, 307], name: [104, 743], geneY: 751, arrowY: 745, gray: [751, 777], blue: [778, 803], hl: [129, 148, 753, 803], sb: [280, 293, 808], lab: 108}
];
const cGeomL = [
  {win: [320, 512], name: [310, 317], geneY: 332, arrowY: 327, gray: [333, 356], blue: [359, 383], hl: [335, 353, 340, 383], sb: [477, 495, 387], lab: 320},
  {win: [320, 512], name: [312, 388], geneY: 399, arrowY: 394, gray: [399, 422], blue: [425, 448], hl: [337, 353, 406, 448], sb: [494, 502, 454], lab: 320},
  {win: [322, 520], name: [322, 453], geneY: 461, arrowY: 457, gray: [462, 485], blue: [487, 512], hl: [457, 499, 472, 512], sb: [493, 505, 517], lab: 322},
  {win: [325, 523], name: [364, 519], geneY: 527, arrowY: 522, gray: [531, 554], blue: [557, 582], hl: [455, 487, 529, 583], sb: [502, 510, 584], lab: 324},
  {win: [325, 522], name: [317, 602], geneY: 615, arrowY: 609, gray: [616, 641], blue: [643, 668], hl: [472, 490, 617, 669], sb: [500, 507, 672], lab: 324},
  {win: [325, 521], name: [322, 675], geneY: 685, arrowY: 679, gray: [685, 709], blue: [712, 737], hl: [345, 363, 692, 737], sb: [501, 508, 741], lab: 324},
  {win: [325, 522], name: [322, 750], geneY: 751, arrowY: 745, gray: [752, 776], blue: [778, 803], hl: [347, 365, 753, 803], sb: [495, 507, 807], lab: 324}
];
function drawC(geom, sigs, genes, tssArr, maxes, scales) {
  geom.forEach((g, i) => {
    const xg = addTrack(g.win, g.gray[0], g.gray[1], maxes[i], sigs[i][0], GRAY_F, GRAY_L);
    addTrack(g.win, g.blue[0], g.blue[1], maxes[i], sigs[i][1], BLUE_F, BLUE_L);
    const col = cGenes[i] === 'Tim3' ? '#000' : NAVY;
    drawGene(xg, g.geneY, genes[i], col, cGenes[i] === 'Tim3' ? 'rgba(60,60,90,0.85)' : NAVY_I);
    tss(xg, g.geneY, g.arrowY, tssArr[i][0], tssArr[i][1]);
    const w = g.win[1] - g.win[0];
    highlight(xg, (g.hl[0] - g.win[0]) / w * 100, (g.hl[1] - g.win[0]) / w * 100, g.hl[2], g.hl[3]);
    txt(g.name[0], g.name[1], '<i>' + cGenes[i] + '</i>', 7, '#111', 'left');
    txt(g.lab, g.gray[0] + 1, maxes[i] + ' _', 5, GRAY_T, 'right');
    txt(g.lab, g.gray[1] - 4, '0 _', 5, GRAY_T, 'right');
    txt(g.lab, g.blue[0] + 3.5, String(maxes[i]), 5, BLUE_T, 'right');
    txt(g.lab, g.blue[1] - 2, '0 _', 5, BLUE_T, 'right');
    scaleBar(g.sb[0], g.sb[1], g.sb[2], scales[i], 5.5);
  });
}
drawC(cGeomB, cSigB, cGeneB, cTssB, cMaxBlast, cScaleBlast);
drawC(cGeomL, cSigL, cGeneL, cTssL, cMaxLSC, cScaleLSC);

Plotly.newPlot('chart', data, layout, {staticPlot: true, displayModeBar: false});
</script></body></html>
